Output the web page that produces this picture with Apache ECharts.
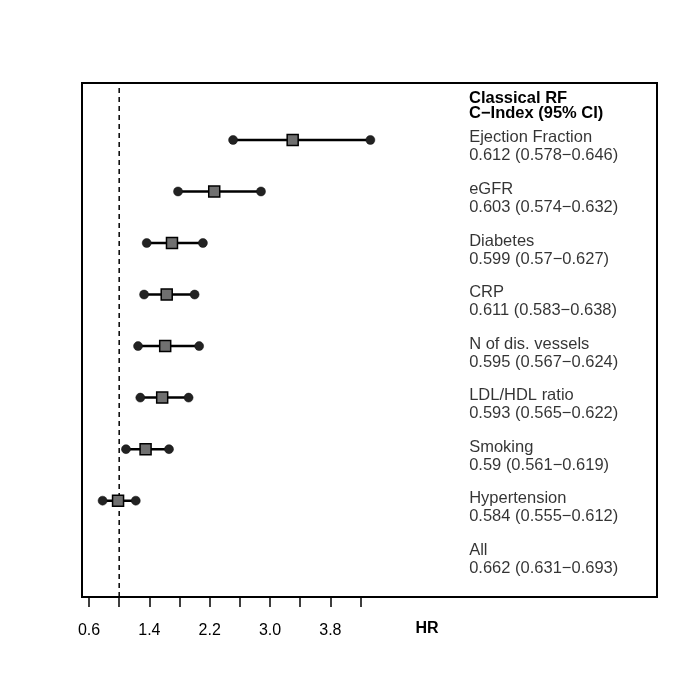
<!DOCTYPE html>
<html>
<head>
<meta charset="utf-8">
<script src="https://cdn.jsdelivr.net/npm/echarts@6/dist/echarts.min.js"></script>
<style>
  html, body { margin: 0; padding: 0; background: #fff; }
  #chart { width: 700px; height: 700px; }
</style>
</head>
<body>
<div id="chart"></div>
<script>
// rows from top to bottom
const rows = ['Ejection Fraction', 'eGFR', 'Diabetes', 'CRP', 'N of dis. vessels',
  'LDL/HDL ratio', 'Smoking', 'Hypertension', 'All'];
const cIndex = ['0.612 (0.578\u22120.646)', '0.603 (0.574\u22120.632)', '0.599 (0.57\u22120.627)',
  '0.611 (0.583\u22120.638)', '0.595 (0.567\u22120.624)', '0.593 (0.565\u22120.622)',
  '0.59 (0.561\u22120.619)', '0.584 (0.555\u22120.612)', '0.662 (0.631\u22120.693)'];
const rowPos = [9, 8, 7, 6, 5, 4, 3, 2, 1];
const hr = [3.30, 2.26, 1.70, 1.63, 1.61, 1.57, 1.35, 0.985, null];
const lower = [2.51, 1.78, 1.365, 1.33, 1.25, 1.28, 1.09, 0.78, null];
const upper = [4.33, 2.88, 2.11, 2.00, 2.06, 1.92, 1.66, 1.22, null];
const tickValues = [0.6, 1.0, 1.4, 1.8, 2.2, 2.6, 3.0, 3.4, 3.8, 4.2];
const labelValues = [0.6, 1.4, 2.2, 3.0, 3.8];
const refLine = 1;

const xMin = 0.507, xMax = 8.13;
const yMin = 0.131, yMax = 10.105;
const textX = 5.64;
const font = 'Liberation Sans, Arial, Helvetica, sans-serif';

const chart = echarts.init(document.getElementById('chart'));

const segData = [], endData = [], pointData = [], textData = [];
rows.forEach((name, i) => {
  if (hr[i] != null) {
    segData.push([lower[i], upper[i], rowPos[i]]);
    endData.push([lower[i], rowPos[i]], [upper[i], rowPos[i]]);
    pointData.push([hr[i], rowPos[i]]);
  }
  textData.push({ value: [textX, rowPos[i]], name: name, ci: cIndex[i] });
});

chart.setOption({
  animation: false,
  grid: {
    left: 82, right: 43, top: 83, bottom: 103,
    show: true, borderColor: '#000', borderWidth: 2, backgroundColor: 'transparent'
  },
  xAxis: {
    type: 'value', min: xMin, max: xMax,
    axisLine: { show: false },
    splitLine: { show: false },
    axisTick: {
      show: true, customValues: tickValues, length: 10, inside: false,
      lineStyle: { color: '#000', width: 1.5 }
    },
    axisLabel: {
      show: true, customValues: labelValues, margin: 26,
      color: '#000', fontSize: 16, fontFamily: font,
      formatter: v => v.toFixed(1)
    }
  },
  yAxis: {
    type: 'value', min: yMin, max: yMax, show: false,
    splitLine: { show: false }
  },
  graphic: [
    {
      type: 'text', left: 469, top: 90,
      style: {
        text: 'Classical RF\nC\u2212Index (95% CI)',
        font: 'bold 16.5px ' + font, fill: '#000', lineHeight: 15
      }
    },
    {
      type: 'text', x: 427, y: 629,
      style: {
        text: 'HR', font: 'bold 16px ' + font, fill: '#000',
        align: 'center', verticalAlign: 'middle'
      }
    }
  ],
  series: [
    {
      type: 'line',
      data: [[refLine, yMin], [refLine, yMax]],
      symbol: 'none',
      lineStyle: { color: '#000', width: 1.5, type: [5, 4] },
      z: 1
    },
    {
      type: 'custom',
      data: segData,
      renderItem: (params, api) => {
        const a = api.coord([api.value(0), api.value(2)]);
        const b = api.coord([api.value(1), api.value(2)]);
        return {
          type: 'line',
          shape: { x1: a[0], y1: a[1], x2: b[0], y2: b[1] },
          style: { stroke: '#000', lineWidth: 2.5 }
        };
      },
      z: 2
    },
    {
      type: 'scatter',
      data: endData,
      symbol: 'circle', symbolSize: 9,
      itemStyle: { color: '#222', borderColor: '#111', borderWidth: 0.5, opacity: 1 },
      z: 3
    },
    {
      type: 'scatter',
      data: pointData,
      symbol: 'rect', symbolSize: 11,
      itemStyle: { color: '#707070', borderColor: '#000', borderWidth: 1.5, opacity: 1 },
      z: 4
    },
    {
      type: 'scatter',
      data: textData,
      symbolSize: 0,
      silent: true,
      label: {
        show: true,
        position: [0, -11],
        align: 'left', verticalAlign: 'top',
        color: '#000', fontSize: 16.5, fontFamily: font, lineHeight: 18,
        formatter: p => p.data.name + '\n' + p.data.ci
      },
      z: 5
    }
  ]
});
</script>
</body>
</html>
